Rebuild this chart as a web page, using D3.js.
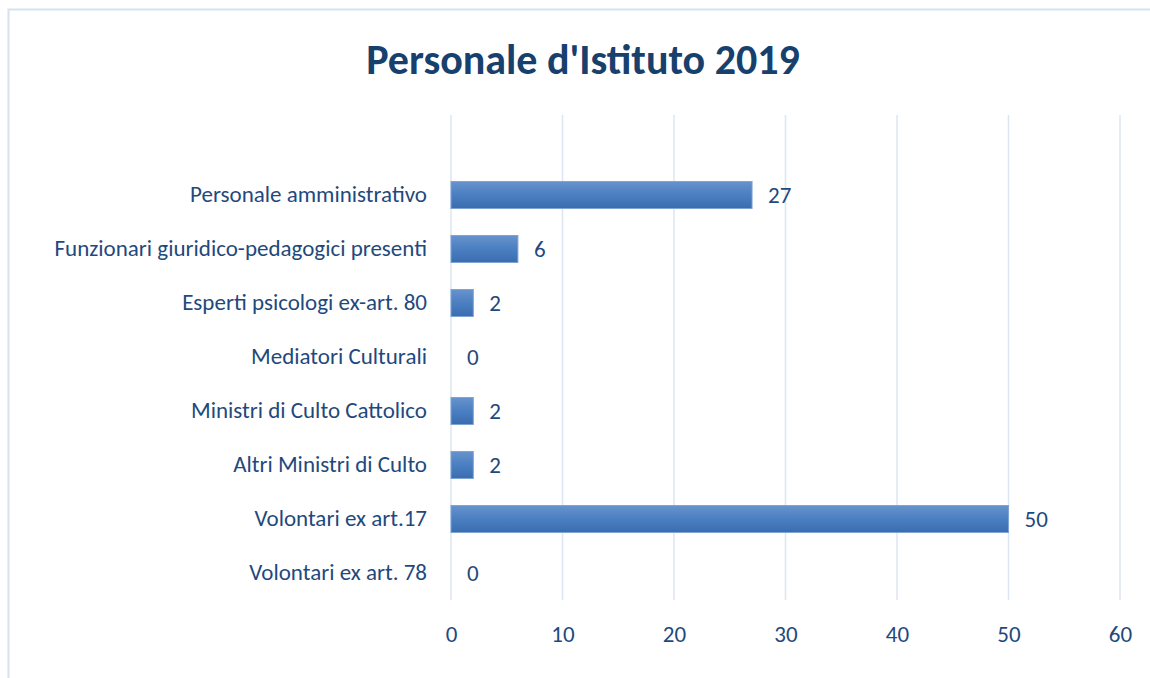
<!DOCTYPE html>
<html>
<head>
<meta charset="utf-8">
<script src="https://cdn.jsdelivr.net/npm/d3@7"></script>
<style>
  body { margin: 0; background: #fff; }
  text { font-family: Carlito, Calibri, Lato, sans-serif; }
</style>
</head>
<body>
<div id="chart"></div>
<script>
const categories = [
  "Personale amministrativo",
  "Funzionari giuridico-pedagogici presenti",
  "Esperti psicologi ex-art. 80",
  "Mediatori Culturali",
  "Ministri di Culto Cattolico",
  "Altri Ministri di Culto",
  "Volontari ex art.17",
  "Volontari ex art. 78"
];
const values = [27, 6, 2, 0, 2, 2, 50, 0];
const xTicks = [0, 10, 20, 30, 40, 50, 60];
const title = "Personale d'Istituto 2019";

const width = 1150;
const height = 678;
const textColor = "#1f497d";

const svg = d3.select("#chart")
  .append("svg")
  .attr("width", width)
  .attr("height", height);

// chart frame
svg.append("rect")
  .attr("x", 8.5).attr("y", 9.5)
  .attr("width", width + 10).attr("height", height + 10)
  .attr("fill", "none")
  .attr("stroke", "#d6e2f0")
  .attr("stroke-width", 2);

const defs = svg.append("defs");
const grad = defs.append("linearGradient")
  .attr("id", "barGrad")
  .attr("x1", 0).attr("y1", 0).attr("x2", 0).attr("y2", 1);
grad.append("stop").attr("offset", "0%").attr("stop-color", "#6793cd");
grad.append("stop").attr("offset", "50%").attr("stop-color", "#4a7fc1");
grad.append("stop").attr("offset", "100%").attr("stop-color", "#3a6db0");

const x = d3.scaleLinear().domain([0, 60]).range([451, 1120]);
const y = d3.scaleBand().domain(categories).range([168, 600]).paddingInner(0.5).paddingOuter(0.25);

// gridlines
svg.append("g")
  .selectAll("line")
  .data(xTicks)
  .join("line")
  .attr("x1", d => x(d)).attr("x2", d => x(d))
  .attr("y1", 115).attr("y2", 600)
  .attr("stroke", "#dce6f2")
  .attr("stroke-width", 1.5);

// x axis labels
const xAxis = d3.axisBottom(x).tickValues(xTicks).tickSize(0).tickPadding(0);
const gx = svg.append("g")
  .attr("transform", "translate(0,626)")
  .call(xAxis);
gx.select(".domain").remove();
gx.selectAll("text")
  .attr("fill", textColor)
  .attr("font-size", 23)
  .attr("dy", "0.71em");

// y axis labels
const yAxis = d3.axisLeft(y).tickSize(0).tickPadding(24);
const gy = svg.append("g")
  .attr("transform", `translate(${x(0)},0)`)
  .call(yAxis);
gy.select(".domain").remove();
gy.selectAll("text")
  .attr("fill", textColor)
  .attr("font-size", 23);

// bars
svg.append("g")
  .selectAll("rect")
  .data(values)
  .join("rect")
  .attr("x", x(0))
  .attr("y", (d, i) => y(categories[i]))
  .attr("width", d => x(d) - x(0))
  .attr("height", y.bandwidth())
  .attr("fill", "url(#barGrad)")
  .attr("stroke", d => d > 0 ? "#7fa3d3" : "none")
  .attr("stroke-width", 1);

// value labels
svg.append("g")
  .selectAll("text")
  .data(values)
  .join("text")
  .attr("x", d => x(d) + 16)
  .attr("y", (d, i) => y(categories[i]) + y.bandwidth() / 2)
  .attr("dy", "0.35em")
  .attr("fill", textColor)
  .attr("font-size", 23)
  .text(d => d);

// title
svg.append("text")
  .attr("x", 583)
  .attr("y", 74)
  .attr("text-anchor", "middle")
  .attr("fill", "#17406d")
  .attr("font-size", 42)
  .attr("font-weight", "bold")
  .text(title);
</script>
</body>
</html>
